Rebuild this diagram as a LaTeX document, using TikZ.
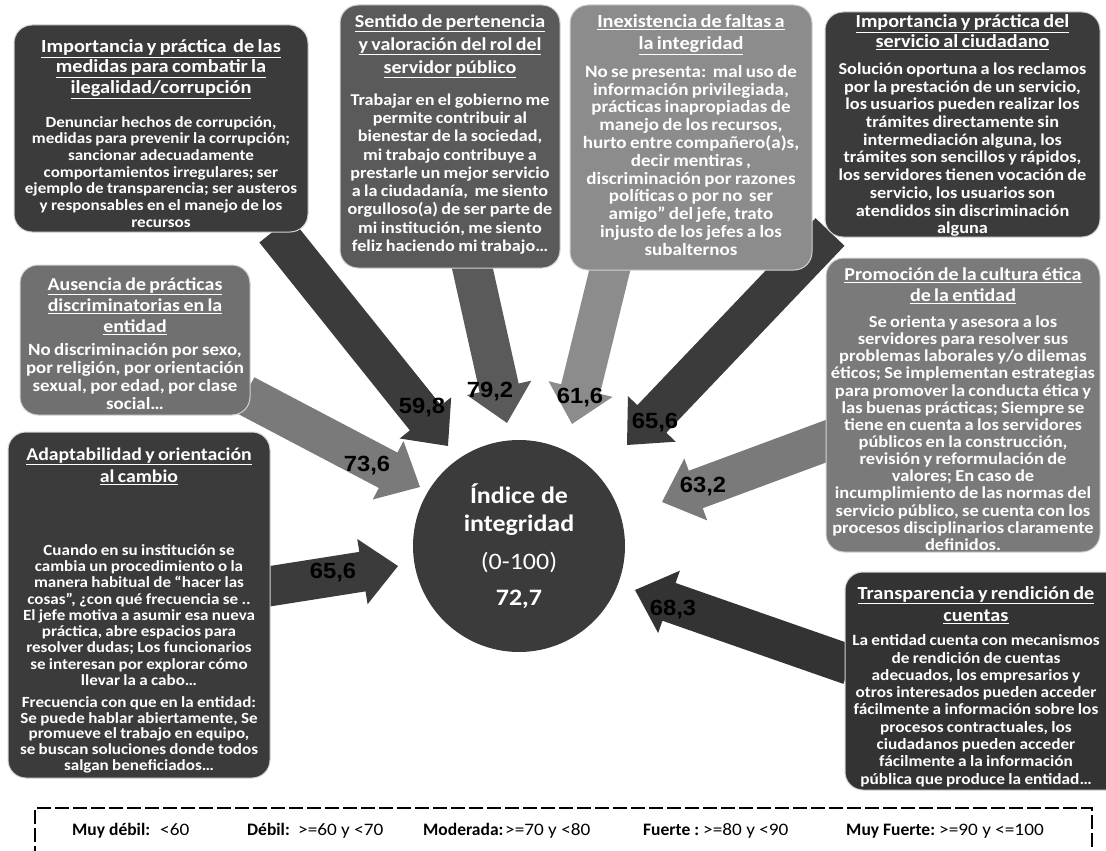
\documentclass[tikz,border=0pt]{standalone}
\usepackage{fontspec}
\setmainfont[FakeStretch=1.1]{Carlito}
\newfontfamily\legf{Carlito}
\newfontfamily\arialw[FakeStretch=1.08]{Liberation Sans}
\usetikzlibrary{calc}
\definecolor{dk}{HTML}{3B3B3B}
\definecolor{dk2}{HTML}{333333}
\definecolor{md}{HTML}{5A5A5A}
\definecolor{md2}{HTML}{707070}
\definecolor{md3}{HTML}{7A7A7A}
\definecolor{lt}{HTML}{8C8C8C}
\newcommand\ttl[1]{\underline{#1}}
\newcommand\tf[2]{\fontsize{#1}{#2}\selectfont\lineskiplimit=-50pt\relax}
\def\shaftw{20}
\def\headw{33}
\def\headlen{36}
\newcommand\blockarrow[3]{%
  \pgfpointdiff{\pgfpointanchor{#1}{center}}{\pgfpointanchor{#2}{center}}%
  \pgfgetlastxy{\bdx}{\bdy}%
  \pgfmathsetmacro\bang{atan2(\bdy,\bdx)}%
  \pgfmathsetmacro\blen{veclen(\bdx,\bdy)}%
  \pgfmathsetmacro\bbase{\blen-\headlen}%
  \begin{scope}[shift={(#1)},rotate=\bang]
    \fill[#3] (0pt,-\shaftw pt) -- (\bbase pt,-\shaftw pt) -- (\bbase pt,-\headw pt)
      -- (\blen pt,0pt) -- (\bbase pt,\headw pt) -- (\bbase pt,\shaftw pt) -- (0pt,\shaftw pt) -- cycle;
  \end{scope}}
\tikzset{
  boxs/.style={rounded corners=18pt, draw=gray!35, line width=1pt, inner sep=0pt},
  txt/.style={text=white, align=center, anchor=north, inner sep=0pt, text width=330, font=\bfseries},
  val/.style={font=\arialw\bfseries\fontsize{22}{26}\selectfont, text=black, inner sep=0pt},
  leg/.style={font=\legf\bfseries\fontsize{17.5}{20}\selectfont, anchor=base west, inner sep=0pt},
  legv/.style={font=\fontsize{17.5}{20}\selectfont, anchor=base west, inner sep=0pt},
}
\begin{document}
\begin{tikzpicture}[x=1pt,y=-1pt]
\useasboundingbox (0,0) rectangle (1106,851);
% connector end points
\coordinate (t1) at (275,230); \coordinate (h1) at (448,446);
\coordinate (t2) at (471,262); \coordinate (h2) at (507,423);
\coordinate (t3) at (611,265); \coordinate (h3) at (572,424);
\coordinate (t4) at (830,232); \coordinate (h4) at (627,445);
\coordinate (t5) at (245,395); \coordinate (h5) at (420,487);
\coordinate (t6) at (265,587); \coordinate (h6) at (398,566);
\coordinate (t7) at (840,436); \coordinate (h7) at (662,502);
\coordinate (t8) at (850,665); \coordinate (h8) at (635,590);
\blockarrow{t1}{h1}{dk}
\blockarrow{t2}{h2}{md}
\blockarrow{t3}{h3}{lt}
\blockarrow{t4}{h4}{dk}
\blockarrow{t5}{h5}{md3}
\blockarrow{t6}{h6}{dk}
\blockarrow{t7}{h7}{md3}
\blockarrow{t8}{h8}{dk2}
% boxes
\node[boxs, fill=dk,  minimum width=294, minimum height=207] (b1) at (161,128.5) {};
\node[boxs, fill=md,  minimum width=220, minimum height=263] (b2) at (450,136.5) {};
\node[boxs, fill=lt,  minimum width=242, minimum height=265] (b3) at (691,137.5) {};
\node[boxs, fill=dk,  minimum width=275, minimum height=225] (b4) at (962.5,124.5) {};
\node[boxs, fill=md2, minimum width=230, minimum height=150] (b5) at (135,340) {};
\node[boxs, fill=md3, minimum width=274, minimum height=294] (b6) at (963,405) {};
\node[boxs, fill=dk,  minimum width=262, minimum height=346] (b7) at (139,605) {};
\node[boxs, fill=dk2, minimum width=280, minimum height=218] (b8) at (985,681) {};
% box texts
\node[txt] (x1) at (161,39.2)
 {{\tf{18.5}{20.5}\ttl{Importancia y práctica\ \ de las}\\ \ttl{medidas para combatir la}\\ \ttl{ilegalidad/corrupción}\par}\vspace{17pt}
  {\tf{15.5}{16.7}Denunciar hechos de corrupción,\\ medidas para prevenir la corrupción;\\ sancionar adecuadamente\\ comportamientos irregulares; ser\\ ejemplo de transparencia; ser austeros\\ y responsables en el manejo de los\\ recursos\par}};
\node[txt] (x2) at (450,14.4)
 {{\tf{18.2}{23}\ttl{Sentido de pertenencia}\\ \ttl{y valoración del rol del}\\ \ttl{servidor público}\par}\vspace{13.8pt}
  {\tf{16.5}{18.25}Trabajar en el gobierno me\\ permite contribuir al\\ bienestar de la sociedad,\\ mi trabajo contribuye a\\ prestarle un mejor servicio\\ a la ciudadanía,\ \ me siento\\ orgulloso(a) de ser parte de\\ mi institución, me siento\\ feliz haciendo mi trabajo…\par}};
\node[txt] (x3) at (691,14.2)
 {{\tf{18.5}{22}\ttl{Inexistencia de faltas a}\\ \ttl{la integridad}\par}\vspace{10.2pt}
  {\tf{17.3}{17.8}No se presenta:\ \ mal uso de\\ información privilegiada,\\ prácticas inapropiadas de\\ manejo de los recursos,\\ hurto entre compañero(a)s,\\ decir mentiras ,\\ discriminación por razones\\ políticas o por no\ \ ser\\ amigo" del jefe, trato\\ injusto de los jefes a los\\ subalternos\par}};
\node[txt] (x4) at (962.5,14.3)
 {{\tf{18.4}{20}\ttl{Importancia y práctica del}\\ \ttl{servicio al ciudadano}\par}\vspace{9.3pt}
  {\tf{16.6}{17.7}Solución oportuna a los reclamos\\ por la prestación de un servicio,\\ los usuarios pueden realizar los\\ trámites directamente sin\\ intermediación alguna, los\\ trámites son sencillos y rápidos,\\ los servidores tienen vocación de\\ servicio, los usuarios son\\ atendidos sin discriminación\\ alguna\par}};
\node[txt] (x5) at (135,277.4)
 {{\tf{18.1}{21}\ttl{Ausencia de prácticas}\\ \ttl{discriminatorias en la}\\ \ttl{entidad}\par}\vspace{5pt}
  {\tf{17.2}{18}No discriminación por sexo,\\ por religión, por orientación\\ sexual, por edad, por clase\\ social…\par}};
\node[txt] (x6) at (963,267.4)
 {{\tf{18.2}{21}\ttl{Promoción de la cultura ética}\\ \ttl{de la entidad}\par}\vspace{8.9pt}
  {\tf{16.8}{17.15}Se orienta y asesora a los\\ servidores para resolver sus\\ problemas laborales y/o dilemas\\ éticos; Se implementan estrategias\\ para promover la conducta ética y\\ las buenas prácticas; Siempre se\\ tiene en cuenta a los servidores\\ públicos en la construcción,\\ revisión y reformulación de\\ valores; En caso de\\ incumplimiento de las normas del\\ servicio público, se cuenta con los\\ procesos disciplinarios claramente\\ definidos.\par}};
\node[txt] (x7) at (139,447.4)
 {{\tf{18}{22}\ttl{Adaptabilidad y orientación}\\ \ttl{al cambio}\par}\vspace{56.8pt}
  {\tf{15.5}{16.25}Cuando en su institución se\\ cambia un procedimiento o la\\ manera habitual de “hacer las\\ cosas”, ¿con qué frecuencia se ..\\ El jefe motiva a asumir esa nueva\\ práctica, abre espacios para\\ resolver dudas; Los funcionarios\\ se interesan por explorar cómo\\ llevar la a cabo…\par}\vspace{6.25pt}
  {\tf{15.5}{15.75}Frecuencia con que en la entidad:\\ Se puede hablar abiertamente, Se\\ promueve el trabajo en equipo,\\ se buscan soluciones donde todos\\ salgan beneficiados…\par}};
\node[txt] (x8) at (976,586.2)
 {{\tf{18.4}{22}\ttl{Transparencia y rendición de}\\ \ttl{cuentas}\par}\vspace{7.1pt}
  {\tf{15.7}{17.3}La entidad cuenta con mecanismos\\ de rendición de cuentas\\ adecuados, los empresarios y\\ otros interesados pueden acceder\\ fácilmente a información sobre los\\ procesos contractuales, los\\ ciudadanos pueden acceder\\ fácilmente a la información\\ pública que produce la entidad…\par}};
% centre
\node[circle, fill=dk, minimum size=212, inner sep=0pt, text=white, align=center,
  font=\fontsize{23.6}{28}\selectfont] (c) at (519,546)
 {\bfseries Índice de\\ \bfseries integridad\\[10pt] (0-100)\\[8pt] \bfseries 72,7};
% values
\node[val] (v1) at (422,408) {59,8};
\node[val] (v2) at (490,392) {79,2};
\node[val] (v3) at (580,398) {61,6};
\node[val] (v4) at (655,423) {65,6};
\node[val] (v5) at (367,466) {73,6};
\node[val] (v6) at (333,573) {65,6};
\node[val] (v7) at (703,487) {63,2};
\node[val] (v8) at (673,610) {68,3};
% legend
\draw[dash pattern=on 14pt off 4pt, line width=1.1pt] (35,860) -- (35,808) -- (1092,808) -- (1092,860);
\node[leg] (l1) at (72,835) {Muy débil:};
\node[legv] (l1v) at (160,835) {<60};
\node[leg] (l2) at (247,835) {Débil:};
\node[legv] (l2v) at (298,835) {>=60 y <70};
\node[leg] (l3) at (423,835) {Moderada:};
\node[legv] (l3v) at (505,835) {>=70 y <80};
\node[leg] (l4) at (643,835) {Fuerte :};
\node[legv] (l4v) at (703,835) {>=80 y <90};
\node[leg] (l5) at (846,835) {Muy Fuerte:};
\node[legv] (l5v) at (939,835) {>=90 y <=100};
\end{tikzpicture}
\end{document}
